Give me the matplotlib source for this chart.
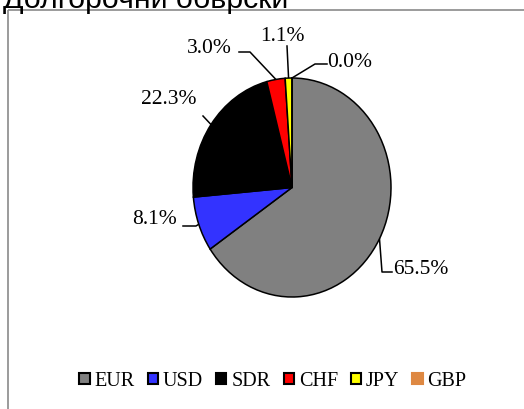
import matplotlib
matplotlib.use('Agg')
import matplotlib.pyplot as plt
from matplotlib.patches import Rectangle, Patch
import numpy as np

# data
currencies = ['EUR', 'USD', 'SDR', 'CHF', 'JPY', 'GBP']
shares = [65.5, 8.1, 22.3, 3.0, 1.1, 0.0]
colors = ['#808080', '#3333FF', '#000000', '#FF0000', '#FFFF00', '#DE8842']
title = 'Долгорочни обврски'

W, H = 524, 410
fig = plt.figure(figsize=(W / 100, H / 100), dpi=100)

# background axes in pixel units (y down)
bg = fig.add_axes([0, 0, 1, 1])
bg.set_xlim(0, W)
bg.set_ylim(H, 0)
bg.axis('off')

# chart frame, cut off at right and bottom
bg.add_patch(Rectangle((8, 11), 530, 420, fill=False, edgecolor='#8a8a8a', lw=1.2))
bg.text(3, 8, title, fontsize=21.8, family='Liberation Sans', va='baseline', ha='left')

# pie axes (slightly taller than wide, like the original)
pax = fig.add_axes([193 / W, (H - 298) / H, 198 / W, 219 / H])
wedges, _ = pax.pie(shares, colors=colors, startangle=90, counterclock=False,
                    wedgeprops=dict(edgecolor='black', linewidth=1.1))
pax.set_aspect('auto')
pax.set_xlim(-1, 1)
pax.set_ylim(-1, 1)

# label positions (left x, baseline y) and leader elbows in pixels
label_xy = [(393, 274), (132, 224), (141, 104), (187, 53), (260, 41), (327, 67)]
elbows = [[(392, 273), (382, 273)],
          [(183, 227), (196, 227)],
          [(203, 117)],
          [(239, 53), (250, 53)],
          [(287, 47)],
          [(327, 65), (315, 65)]]

fig.canvas.draw()
inv = bg.transData.inverted()
for w, val, (tx, ty), elb in zip(wedges, shares, label_xy, elbows):
    mid = np.deg2rad((w.theta1 + w.theta2) / 2)
    disp = pax.transData.transform((np.cos(mid), np.sin(mid)))
    ax_, ay_ = inv.transform(disp)
    pts = elb + [(ax_, ay_)]
    bg.plot([p[0] for p in pts], [p[1] for p in pts], color='black', lw=1.1)
    bg.text(tx, ty, f'{val:.1f}%', fontsize=15.5, family='Liberation Serif',
            va='baseline', ha='left')

handles = []
for c, v in zip(colors, shares):
    handles.append(Patch(facecolor=c, edgecolor='black' if v > 0 else c, lw=1.5))
fig.legend(handles, currencies, loc='center', bbox_to_anchor=(273 / W, 1 - 382 / H),
           ncol=6, frameon=False, prop={'family': 'Liberation Serif', 'size': 14.5},
           handlelength=0.5, handleheight=0.5, handletextpad=0.25, columnspacing=0.65,
           borderpad=0)

fig.savefig('out.png', dpi=100)
